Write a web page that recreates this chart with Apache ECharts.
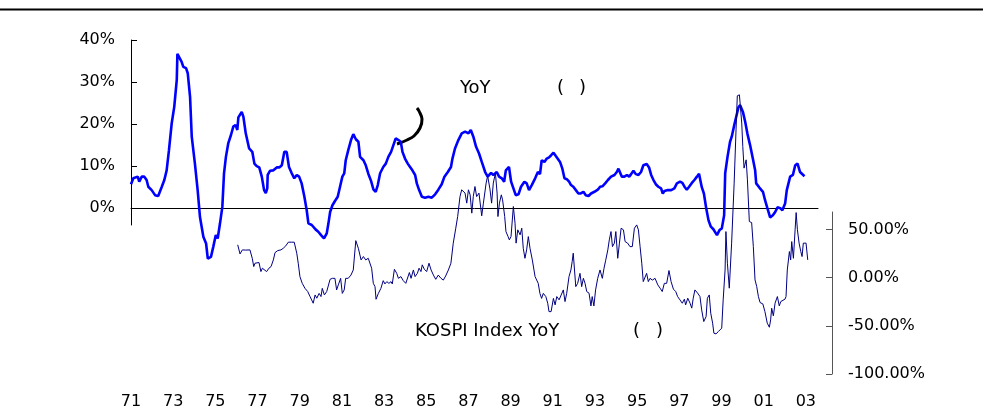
<!DOCTYPE html>
<html>
<head>
<meta charset="utf-8">
<script src="https://cdn.jsdelivr.net/npm/echarts@6/dist/echarts.min.js"></script>
<style>
  html, body { margin: 0; padding: 0; background: #fff; }
  #chart { width: 986px; height: 414px; }
</style>
</head>
<body>
<div id="chart"></div>
<script>
// 산업생산 YoY (좌축), [연도, %]
var ipYoY = [
  [1971.00,5.7],[1971.11,7.1],[1971.32,7.5],[1971.39,6.3],[1971.51,7.5],[1971.63,7.5],[1971.74,6.7],[1971.82,5.1],
  [1971.98,4.3],[1972.06,4.0],[1972.14,3.1],[1972.29,2.9],[1972.38,3.1],[1972.46,5.1],[1972.58,6.7],[1972.69,9.0],
  [1972.80,13.8],[1972.93,20.2],[1973.05,24.1],[1973.17,30.5],[1973.20,36.7],[1973.29,36.4],[1973.40,34.8],[1973.48,33.6],
  [1973.61,33.3],[1973.69,32.1],[1973.80,26.5],[1973.88,17.0],[1974.03,10.6],[1974.16,4.3],[1974.27,-2.1],[1974.43,-6.8],
  [1974.56,-8.4],[1974.64,-12.0],[1974.79,-11.6],[1974.90,-9.2],[1975.02,-6.4],[1975.11,-7.2],[1975.22,-3.6],[1975.33,0.3],
  [1975.41,8.3],[1975.50,12.2],[1975.61,15.4],[1975.74,17.4],[1975.85,19.4],[1975.96,19.8],[1976.04,18.6],[1976.09,21.6],
  [1976.25,22.9],[1976.33,21.7],[1976.44,17.8],[1976.60,14.2],[1976.75,13.4],[1976.85,10.6],[1976.96,10.0],[1977.08,9.7],
  [1977.20,7.5],[1977.31,4.3],[1977.39,3.6],[1977.46,4.7],[1977.48,7.9],[1977.59,8.9],[1977.75,9.0],[1977.91,9.7],
  [1978.03,9.7],[1978.15,10.2],[1978.27,13.4],[1978.38,13.4],[1978.49,9.8],[1978.62,8.3],[1978.74,7.1],[1978.86,7.9],
  [1978.97,7.5],[1979.09,5.9],[1979.22,2.7],[1979.33,-0.5],[1979.41,-3.6],[1979.57,-4.0],[1979.76,-5.1],[1979.88,-5.6],
  [1980.01,-6.4],[1980.15,-7.2],[1980.28,-6.0],[1980.36,-3.6],[1980.44,-0.9],[1980.55,0.7],[1980.67,1.7],[1980.80,2.7],
  [1980.91,5.1],[1981.02,7.5],[1981.11,8.3],[1981.18,11.4],[1981.30,13.8],[1981.43,16.2],[1981.54,17.6],[1981.66,16.4],
  [1981.78,15.8],[1981.86,12.2],[1982.02,11.4],[1982.13,10.2],[1982.25,8.2],[1982.38,6.5],[1982.49,4.5],[1982.60,3.9],
  [1982.70,5.5],[1982.81,8.3],[1982.96,9.8],[1983.08,10.6],[1983.20,12.2],[1983.33,13.4],[1983.44,15.0],[1983.55,16.6],
  [1983.68,16.2],[1983.79,15.8],[1983.87,13.4],[1983.99,11.8],[1984.12,10.6],[1984.23,9.8],[1984.34,9.0],[1984.47,7.9],
  [1984.55,5.9],[1984.66,4.3],[1984.79,2.7],[1984.94,2.5],[1985.10,2.7],[1985.26,2.5],[1985.42,3.3],[1985.57,4.4],
  [1985.73,5.7],[1985.86,7.5],[1986.02,8.6],[1986.17,9.8],[1986.24,11.8],[1986.36,14.2],[1986.52,16.2],[1986.68,17.8],
  [1986.84,18.2],[1987.00,17.8],[1987.11,18.6],[1987.23,17.0],[1987.36,14.6],[1987.50,13.0],[1987.63,11.0],[1987.79,8.6],
  [1987.91,7.5],[1988.07,8.4],[1988.18,7.9],[1988.34,8.6],[1988.45,7.5],[1988.58,7.1],[1988.69,6.3],[1988.77,9.0],
  [1988.92,9.8],[1989.02,6.3],[1989.13,4.7],[1989.24,3.1],[1989.37,3.3],[1989.49,5.1],[1989.65,6.3],[1989.76,5.9],
  [1989.87,4.3],[1990.00,5.5],[1990.16,7.1],[1990.29,8.6],[1990.39,8.1],[1990.47,11.4],[1990.60,11.0],[1990.71,11.8],
  [1990.82,12.1],[1990.92,12.6],[1991.03,13.2],[1991.14,12.4],[1991.23,12.2],[1991.34,11.0],[1991.45,9.4],[1991.55,7.1],
  [1991.66,6.9],[1991.77,6.3],[1991.86,5.5],[1991.97,5.1],[1992.09,4.3],[1992.21,3.5],[1992.32,3.5],[1992.45,3.9],
  [1992.56,3.1],[1992.69,2.9],[1992.81,3.5],[1992.97,3.9],[1993.13,4.4],[1993.24,5.1],[1993.35,5.2],[1993.48,5.9],
  [1993.61,6.7],[1993.76,7.5],[1993.92,7.9],[1994.03,8.6],[1994.11,9.4],[1994.19,9.4],[1994.27,7.5],[1994.39,7.5],
  [1994.51,7.9],[1994.62,7.5],[1994.71,8.1],[1994.82,8.9],[1994.93,8.1],[1995.06,7.9],[1995.18,8.6],[1995.29,10.2],
  [1995.45,10.5],[1995.56,9.7],[1995.66,7.9],[1995.77,6.7],[1995.88,5.7],[1996.00,5.1],[1996.13,4.7],[1996.21,3.5],
  [1996.29,4.1],[1996.45,4.3],[1996.61,4.3],[1996.76,4.7],[1996.88,5.9],[1997.03,6.3],[1997.14,6.0],[1997.24,5.1],
  [1997.35,4.4],[1997.46,5.1],[1997.59,6.0],[1997.71,6.7],[1997.83,7.5],[1997.93,8.2],[1998.06,5.0],[1998.16,3.5],
  [1998.27,0.0],[1998.38,-2.9],[1998.49,-4.4],[1998.61,-5.0],[1998.78,-6.4],[1998.90,-5.2],[1999.01,-4.8],[1999.12,-1.7],
  [1999.17,8.3],[1999.28,12.2],[1999.40,15.8],[1999.48,17.0],[1999.60,19.8],[1999.69,21.7],[1999.80,24.0],[1999.88,24.5],
  [2000.01,22.9],[2000.12,20.5],[2000.22,17.8],[2000.35,15.0],[2000.48,11.8],[2000.59,9.0],[2000.64,5.9],[2000.79,4.9],
  [2000.96,3.9],[2001.06,1.9],[2001.17,0.0],[2001.30,-2.2],[2001.43,-1.7],[2001.54,-0.9],[2001.65,0.2],[2001.78,0.0],
  [2001.88,-0.5],[2002.01,1.1],[2002.09,4.3],[2002.17,4.7],[2002.25,7.5],[2002.38,7.9],[2002.49,10.2],[2002.60,10.6],
  [2002.72,8.6],[2002.93,7.6]
];

// KOSPI Index YoY (우축), [연도, %]
var kospiYoY = [
  [1976.06,34.0],[1976.17,24.5],[1976.28,28.7],[1976.44,28.5],[1976.53,27.0],[1976.64,28.7],[1976.75,20.0],[1976.82,11.4],
  [1976.88,14.9],[1976.96,13.2],[1977.07,15.6],[1977.16,6.2],[1977.23,9.7],[1977.32,7.9],[1977.43,6.2],[1977.54,9.7],
  [1977.64,11.4],[1977.75,18.3],[1977.83,25.9],[1977.96,28.0],[1978.11,28.7],[1978.22,30.4],[1978.27,28.7],[1978.34,32.9],
  [1978.46,36.7],[1978.62,36.7],[1978.74,36.7],[1978.86,25.3],[1978.93,14.9],[1979.01,1.0],[1979.12,-6.0],[1979.25,-11.2],
  [1979.38,-14.5],[1979.49,-19.7],[1979.57,-21.4],[1979.64,-26.6],[1979.73,-18.0],[1979.81,-21.4],[1979.92,-16.4],[1980.01,-19.7],
  [1980.07,-11.2],[1980.17,-18.0],[1980.28,-14.5],[1980.36,-12.8],[1980.44,-1.8],[1980.55,-0.8],[1980.67,-0.8],[1980.75,-12.8],
  [1980.83,-7.6],[1980.94,-0.8],[1981.02,-16.4],[1981.11,-12.8],[1981.18,-0.8],[1981.30,-0.8],[1981.43,2.6],[1981.54,7.9],
  [1981.66,38.3],[1981.78,30.4],[1981.91,18.3],[1982.02,21.8],[1982.13,18.3],[1982.25,20.0],[1982.33,21.8],[1982.41,9.7],
  [1982.49,-6.0],[1982.57,-9.4],[1982.62,-22.5],[1982.73,-16.4],[1982.85,-11.2],[1982.96,-3.2],[1983.04,-6.6],[1983.13,-4.2],
  [1983.23,-6.0],[1983.33,-4.2],[1983.39,-6.6],[1983.49,8.6],[1983.60,4.4],[1983.68,-0.8],[1983.80,1.0],[1983.91,-3.2],
  [1984.03,-6.0],[1984.12,-6.6],[1984.20,5.2],[1984.28,-0.8],[1984.39,7.9],[1984.47,1.0],[1984.58,4.4],[1984.66,9.7],
  [1984.75,6.2],[1984.81,13.2],[1984.91,8.6],[1985.02,6.2],[1985.13,14.9],[1985.23,7.9],[1985.34,2.6],[1985.45,-1.8],
  [1985.57,2.6],[1985.70,-0.8],[1985.81,-2.6],[1985.92,1.6],[1986.05,7.9],[1986.17,14.9],[1986.28,35.6],[1986.40,51.2],
  [1986.49,63.3],[1986.60,84.0],[1986.68,91.0],[1986.76,91.7],[1986.84,87.6],[1986.92,77.2],[1987.00,91.0],[1987.08,85.8],
  [1987.16,66.8],[1987.23,84.0],[1987.31,94.4],[1987.39,84.0],[1987.50,87.6],[1987.63,64.0],[1987.71,77.2],[1987.79,78.0],
  [1987.84,98.0],[1987.91,105.5],[1988.02,92.0],[1988.10,77.2],[1988.18,98.0],[1988.28,108.3],[1988.36,87.6],[1988.40,63.3],
  [1988.47,77.2],[1988.56,85.8],[1988.62,80.6],[1988.72,63.3],[1988.78,47.7],[1988.88,42.5],[1988.94,39.1],[1989.02,42.5],
  [1989.13,73.7],[1989.21,56.4],[1989.26,35.7],[1989.34,49.5],[1989.45,44.3],[1989.53,51.2],[1989.60,30.4],[1989.68,20.0],
  [1989.76,28.7],[1989.84,42.5],[1989.92,30.4],[1990.03,18.3],[1990.16,1.0],[1990.24,-0.8],[1990.31,-6.0],[1990.39,-16.4],
  [1990.47,-21.6],[1990.55,-16.4],[1990.67,-19.7],[1990.76,-26.6],[1990.82,-35.3],[1990.92,-35.3],[1991.03,-21.6],[1991.11,-28.3],
  [1991.19,-19.7],[1991.30,-23.1],[1991.39,-23.1],[1991.50,-12.8],[1991.58,-24.9],[1991.66,-16.4],[1991.77,1.0],[1991.86,7.9],
  [1991.92,16.6],[1991.97,25.3],[1992.09,-9.4],[1992.18,-6.0],[1992.29,4.4],[1992.37,-9.4],[1992.45,-0.8],[1992.53,-6.0],
  [1992.61,-14.5],[1992.72,-16.2],[1992.81,-29.4],[1992.87,-19.7],[1992.95,-29.4],[1993.03,-12.8],[1993.13,-0.8],[1993.24,7.9],
  [1993.35,-0.8],[1993.43,9.7],[1993.51,18.0],[1993.61,28.7],[1993.68,39.1],[1993.76,47.7],[1993.83,32.1],[1993.92,35.7],
  [1993.99,47.7],[1994.08,20.0],[1994.16,35.7],[1994.24,51.2],[1994.35,49.5],[1994.43,37.3],[1994.55,35.7],[1994.66,32.1],
  [1994.77,32.1],[1994.87,51.2],[1994.98,54.6],[1995.06,49.5],[1995.14,32.1],[1995.22,14.9],[1995.29,-4.2],[1995.37,-4.2],
  [1995.45,4.4],[1995.53,-4.2],[1995.61,-0.8],[1995.72,-2.6],[1995.85,-0.8],[1995.98,-7.6],[1996.09,-11.0],[1996.19,-14.5],
  [1996.29,-6.0],[1996.40,-6.0],[1996.51,7.3],[1996.61,-4.2],[1996.72,-12.0],[1996.83,-14.5],[1996.92,-19.7],[1997.03,-23.1],
  [1997.14,-26.6],[1997.24,-22.4],[1997.30,-28.3],[1997.40,-21.4],[1997.51,-26.6],[1997.59,-31.7],[1997.66,-21.4],[1997.74,-12.8],
  [1997.87,-16.2],[1997.98,-19.7],[1998.06,-33.5],[1998.16,-45.6],[1998.27,-40.4],[1998.33,-21.4],[1998.42,-18.0],[1998.49,-36.9],
  [1998.58,-47.3],[1998.64,-57.7],[1998.74,-58.4],[1998.85,-56.0],[1999.01,-52.5],[1999.08,-23.1],[1999.17,7.9],[1999.21,47.7],
  [1999.28,14.9],[1999.37,-11.0],[1999.48,35.7],[1999.60,97.9],[1999.69,153.2],[1999.75,188.5],[1999.85,189.5],[1999.91,190.6],
  [1999.96,160.2],[2000.01,135.9],[2000.07,113.5],[2000.17,122.1],[2000.23,101.3],[2000.32,58.1],[2000.43,57.0],[2000.51,32.1],
  [2000.59,-2.4],[2000.67,-9.3],[2000.75,-19.7],[2000.83,-25.9],[2000.96,-27.3],[2001.06,-35.3],[2001.17,-47.3],[2001.27,-51.5],
  [2001.33,-43.9],[2001.38,-31.8],[2001.46,-39.7],[2001.54,-26.6],[2001.65,-19.7],[2001.74,-29.4],[2001.81,-24.9],[2001.90,-23.1],
  [2002.01,-22.4],[2002.06,-19.7],[2002.12,7.9],[2002.22,27.0],[2002.28,18.3],[2002.33,37.3],[2002.41,20.0],[2002.49,49.5],
  [2002.54,67.4],[2002.60,49.5],[2002.68,35.7],[2002.76,27.0],[2002.82,21.8],[2002.88,35.7],[2003.01,35.7],[2003.09,18.3]
];

var yearTicks = [1971, 1973, 1975, 1977, 1979, 1981, 1983, 1985, 1987, 1989, 1991, 1993, 1995, 1997, 1999, 2001, 2003];
var leftTicks = [0, 10, 20, 30, 40];
var rightTicks = [-100, -50, 0, 50];

var FONT = 'DejaVu Sans';
var myChart = echarts.init(document.getElementById('chart'));

var option = {
  animation: false,
  backgroundColor: '#fff',
  grid: [
    { left: 131, top: 40, width: 687, height: 185 },
    { left: 131, top: 212, width: 701, height: 162 }
  ],
  xAxis: [
    {
      gridIndex: 0, type: 'value', min: 1971, max: 2003.57,
      axisLine: { onZero: true, lineStyle: { color: '#000', width: 1 } },
      axisTick: { show: false },
      axisLabel: { show: false },
      splitLine: { show: false }
    },
    {
      gridIndex: 1, type: 'value', min: 1971, max: 2004.24,
      axisLine: { show: false },
      axisTick: { show: false },
      splitLine: { show: false },
      axisLabel: {
        customValues: yearTicks,
        margin: 20,
        fontFamily: FONT, fontSize: 16, color: '#000',
        formatter: function (v) { return String(Math.round(v) % 100).padStart(2, '0'); }
      }
    }
  ],
  yAxis: [
    {
      gridIndex: 0, type: 'value', min: -4, max: 40, position: 'left',
      axisLine: { show: true, onZero: false, lineStyle: { color: '#000', width: 1 } },
      axisTick: { show: true, inside: true, length: 6, customValues: leftTicks, lineStyle: { color: '#000' } },
      axisLabel: { customValues: leftTicks, margin: 16, fontFamily: FONT, fontSize: 16, color: '#000', formatter: '{value}%' },
      splitLine: { show: false }
    },
    {
      gridIndex: 1, type: 'value', min: -100, max: 68, position: 'right',
      axisLine: { show: true, onZero: false, lineStyle: { color: '#555', width: 1 } },
      axisTick: { show: true, inside: true, length: 6, customValues: rightTicks, lineStyle: { color: '#555' } },
      axisLabel: {
        customValues: rightTicks, margin: 16, fontFamily: FONT, fontSize: 16, color: '#000',
        formatter: function (v) { return v.toFixed(2) + '%'; }
      },
      splitLine: { show: false }
    }
  ],
  series: [
    {
      name: '산업생산 YoY',
      type: 'line', xAxisIndex: 0, yAxisIndex: 0,
      data: ipYoY, symbol: 'none', clip: false, z: 2,
      lineStyle: { color: '#0000ff', width: 2.6 }
    },
    {
      name: 'KOSPI Index YoY',
      type: 'line', xAxisIndex: 1, yAxisIndex: 1,
      data: kospiYoY, symbol: 'none', clip: false, z: 3,
      lineStyle: { color: '#000080', width: 1 }
    }
  ],
  graphic: [
    { type: 'line', shape: { x1: 0, y1: 9.5, x2: 983, y2: 9.5 }, style: { stroke: '#000', lineWidth: 2 } },
    { type: 'text', x: 460, y: 88, style: { text: 'YoY', fontFamily: FONT, fontSize: 18, fill: '#000', verticalAlign: 'middle' } },
    { type: 'text', x: 557, y: 88, style: { text: '(', fontFamily: FONT, fontSize: 18, fill: '#000', verticalAlign: 'middle' } },
    { type: 'text', x: 579, y: 88, style: { text: ')', fontFamily: FONT, fontSize: 18, fill: '#000', verticalAlign: 'middle' } },
    { type: 'text', x: 415, y: 331, style: { text: 'KOSPI Index YoY', fontFamily: FONT, fontSize: 18, fill: '#000', verticalAlign: 'middle' } },
    { type: 'text', x: 633, y: 331, style: { text: '(', fontFamily: FONT, fontSize: 18, fill: '#000', verticalAlign: 'middle' } },
    { type: 'text', x: 656, y: 331, style: { text: ')', fontFamily: FONT, fontSize: 18, fill: '#000', verticalAlign: 'middle' } },
    {
      type: 'polyline',
      shape: { points: [[397, 144], [407, 140], [414, 136], [420, 128], [422, 119], [419, 111], [417, 108]], smooth: 0.4 },
      style: { stroke: '#000', lineWidth: 3, fill: null }
    }
  ]
};

myChart.setOption(option);
</script>
</body>
</html>
